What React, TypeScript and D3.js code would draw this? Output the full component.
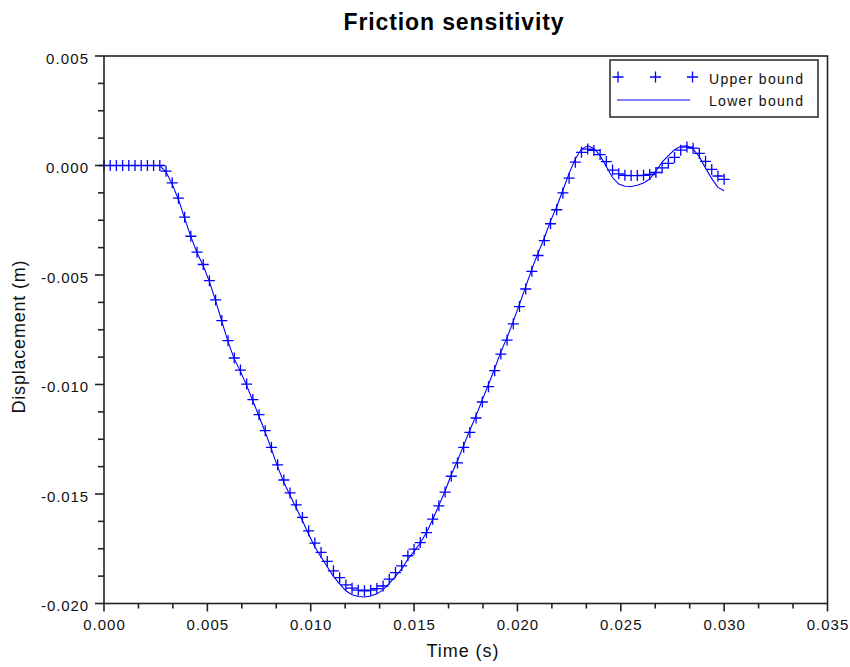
import React from "react";
import * as d3 from "d3";

// Time samples (s)
const TIME = [0,0.0003,0.0006,0.0009,0.0012,0.0015,0.0018,0.0021,0.0024,0.0027,0.003,0.0033,0.0036,0.0039,0.0042,0.0045,0.0048,0.0051,0.0054,0.0057,0.006,0.0063,0.0066,0.0069,0.0072,0.0075,0.0078,0.0081,0.0084,0.0087,0.009,0.0093,0.0096,0.0099,0.0102,0.0105,0.0108,0.0111,0.0114,0.0117,0.012,0.0123,0.0126,0.0129,0.0132,0.0135,0.0138,0.0141,0.0144,0.0147,0.015,0.0153,0.0156,0.0159,0.0162,0.0165,0.0168,0.0171,0.0174,0.0177,0.018,0.0183,0.0186,0.0189,0.0192,0.0195,0.0198,0.0201,0.0204,0.0207,0.021,0.0213,0.0216,0.0219,0.0222,0.0225,0.0228,0.0231,0.0234,0.0237,0.024,0.0243,0.0246,0.0249,0.0252,0.0255,0.0258,0.0261,0.0264,0.0267,0.027,0.0273,0.0276,0.0279,0.0282,0.0285,0.0288,0.0291,0.0294,0.0297,0.03];

// Upper bound displacement (mm)
const UPPER_MM = [0,0,0,0,0,0,0,0,0,0,
  -0.26,-0.79,-1.49,-2.36,-3.23,-3.96,-4.52,-5.26,-6.14,-7.08,
  -8.0,-8.79,-9.34,-9.98,-10.69,-11.38,-12.11,-12.87,-13.67,-14.36,
  -14.95,-15.5,-16.07,-16.68,-17.24,-17.67,-18.08,-18.51,-18.82,-19.15,
  -19.3,-19.39,-19.42,-19.39,-19.32,-19.2,-18.89,-18.59,-18.28,-17.82,
  -17.52,-17.22,-16.76,-16.15,-15.54,-14.91,-14.19,-13.58,-12.87,-12.19,
  -11.53,-10.8,-10.1,-9.37,-8.61,-7.97,-7.23,-6.44,-5.64,-4.83,
  -4.11,-3.43,-2.66,-2.02,-1.25,-0.58,0.15,0.6,0.75,0.69,
  0.5,0.18,-0.21,-0.38,-0.45,-0.46,-0.46,-0.45,-0.41,-0.32,
  -0.11,0.1,0.37,0.7,0.84,0.79,0.55,0.19,-0.18,-0.48,
  -0.63];

// Lower bound displacement (mm)
const LOWER_MM = [0,0,0,0,0,0,0,0,0,0,
  -0.3,-0.85,-1.55,-2.4,-3.25,-3.98,-4.58,-5.3,-6.18,-7.12,
  -8.04,-8.83,-9.4,-10.04,-10.75,-11.45,-12.18,-12.95,-13.76,-14.46,
  -15.07,-15.64,-16.22,-16.84,-17.42,-17.88,-18.32,-18.76,-19.1,-19.42,
  -19.6,-19.68,-19.7,-19.66,-19.56,-19.38,-19.08,-18.76,-18.42,-17.98,
  -17.62,-17.24,-16.76,-16.16,-15.52,-14.86,-14.12,-13.48,-12.78,-12.08,
  -11.42,-10.7,-10.0,-9.27,-8.51,-7.86,-7.12,-6.33,-5.53,-4.72,
  -4.0,-3.31,-2.54,-1.88,-1.12,-0.36,0.3,0.75,0.9,0.78,
  0.45,-0.05,-0.55,-0.85,-0.95,-0.96,-0.9,-0.8,-0.62,-0.25,
  0.15,0.45,0.72,0.88,0.9,0.75,0.4,-0.12,-0.6,-1.0,
  -1.15];

const X_TICKS = [0, 0.005, 0.01, 0.015, 0.02, 0.025, 0.03, 0.035];
const X_TICK_LABELS = ["0.000", "0.005", "0.010", "0.015", "0.020", "0.025", "0.030", "0.035"];
const Y_TICKS = [0.005, 0, -0.005, -0.01, -0.015, -0.02];
const Y_TICK_LABELS = ["0.005", "0.000", "-0.005", "-0.010", "-0.015", "-0.020"];

const TITLE = "Friction sensitivity";
const X_LABEL = "Time (s)";
const Y_LABEL = "Displacement (m)";
const SERIES_NAMES = ["Upper bound", "Lower bound"];

const BLUE = "#0000ff";
const FONT = "'Liberation Sans', Arial, Helvetica, sans-serif";

export default function App() {
  const left = 104, right = 827.5, top = 56, bottom = 603.5;
  const x = d3.scaleLinear().domain([0, 0.035]).range([left, right]);
  const y = d3.scaleLinear().domain([-0.02, 0.005]).range([bottom, top]);

  const upper = TIME.map((t, i) => [t, UPPER_MM[i] / 1000] as [number, number]);
  const lower = TIME.map((t, i) => [t, LOWER_MM[i] / 1000] as [number, number]);

  const line = d3.line<[number, number]>().x((d) => x(d[0])).y((d) => y(d[1]));

  const xMinor: number[] = [];
  for (let i = 0; i < X_TICKS.length - 1; i++) {
    const a = X_TICKS[i], b = X_TICKS[i + 1];
    xMinor.push(a + (b - a) / 3, a + (2 * (b - a)) / 3);
  }
  const yMinor: number[] = [];
  for (let i = 0; i < Y_TICKS.length - 1; i++) {
    const a = Y_TICKS[i], b = Y_TICKS[i + 1];
    for (let j = 1; j < 4; j++) yMinor.push(a + ((b - a) * j) / 4);
  }

  const plus = (cx: number, cy: number, s = 5.5) =>
    `M${cx - s},${cy}H${cx + s}M${cx},${cy - s}V${cy + s}`;

  const markerPath = upper.map((d) => plus(x(d[0]), y(d[1]))).join("");

  return (
    <svg
      width={850}
      height={667}
      style={{ position: "absolute", left: 0, top: 0, background: "#fff" }}
      fontFamily={FONT}
    >
      <rect x={0} y={0} width={850} height={667} fill="#fff" />
      {/* title */}
      <text x={453.5} y={29.5} fontSize={23} fontWeight="bold" textAnchor="middle" textLength={220} lengthAdjust="spacing" fill="#000">
        {TITLE}
      </text>

      {/* data */}
      <path d={line(lower) || ""} fill="none" stroke={BLUE} strokeWidth={1.1} />
      <path d={markerPath} fill="none" stroke={BLUE} strokeWidth={1.3} />

      {/* frame */}
      <rect x={left} y={top} width={right - left} height={bottom - top} fill="none" stroke="#222" strokeWidth={1.6} />

      {/* x ticks */}
      {X_TICKS.map((t, i) => (
        <g key={"xt" + i}>
          <line x1={x(t)} x2={x(t)} y1={bottom} y2={bottom + 8} stroke="#222" strokeWidth={1.6} />
          <text x={x(t)} y={629.5} fontSize={15} textAnchor="middle" textLength={41.5} lengthAdjust="spacing" fill="#111">
            {X_TICK_LABELS[i]}
          </text>
        </g>
      ))}
      {xMinor.map((t, i) => (
        <line key={"xm" + i} x1={x(t)} x2={x(t)} y1={bottom} y2={bottom + 5} stroke="#222" strokeWidth={1.6} />
      ))}

      {/* y ticks */}
      {Y_TICKS.map((v, i) => {
        const lbl = Y_TICK_LABELS[i];
        return (
          <g key={"yt" + i}>
            <line x1={left - 9} x2={left} y1={y(v)} y2={y(v)} stroke="#222" strokeWidth={1.6} />
            <text x={88} y={y(v) + 7.5} fontSize={15} textAnchor="end" textLength={lbl.startsWith("-") ? 47 : 42} lengthAdjust="spacing" fill="#111">
              {lbl}
            </text>
          </g>
        );
      })}
      {yMinor.map((v, i) => (
        <line key={"ym" + i} x1={left - 6} x2={left} y1={y(v)} y2={y(v)} stroke="#222" strokeWidth={1.6} />
      ))}

      {/* axis labels */}
      <text x={462.5} y={656.5} fontSize={18} textAnchor="middle" textLength={72} lengthAdjust="spacing" fill="#111">
        {X_LABEL}
      </text>
      <text transform="translate(25,337) rotate(-90)" fontSize={18} textAnchor="middle" textLength={153} lengthAdjust="spacing" fill="#111">
        {Y_LABEL}
      </text>

      {/* legend */}
      <rect x={610} y={60} width={208} height={57} fill="#fff" stroke="#333" strokeWidth={1.6} />
      <path d={plus(618, 77) + plus(655.5, 77) + plus(692.5, 77)} fill="none" stroke={BLUE} strokeWidth={1.3} />
      <line x1={617} x2={690} y1={100} y2={100} stroke={BLUE} strokeWidth={1.1} />
      <text x={709} y={84.3} fontSize={14} textLength={94} lengthAdjust="spacing" fill="#111">
        {SERIES_NAMES[0]}
      </text>
      <text x={709} y={106} fontSize={14} textLength={94} lengthAdjust="spacing" fill="#111">
        {SERIES_NAMES[1]}
      </text>
    </svg>
  );
}
